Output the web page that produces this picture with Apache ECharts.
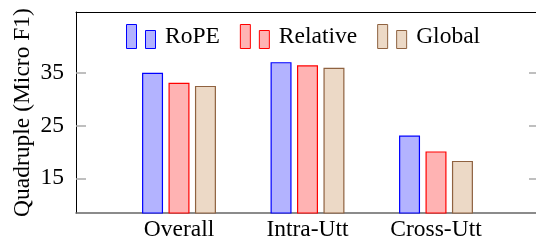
<!DOCTYPE html>
<html>
<head>
<meta charset="utf-8">
<script src="https://cdn.jsdelivr.net/npm/echarts@6/dist/echarts.min.js"></script>
<style>
  html, body { margin: 0; padding: 0; background: #fff; }
  #chart { width: 536px; height: 242px; }
</style>
</head>
<body>
<div id="chart"></div>
<script>
const categories = ['Overall', 'Intra-Utt', 'Cross-Utt'];
const ropeValues = [35.0, 37.0, 23.1];
const relativeValues = [33.1, 36.4, 20.1];
const globalValues = [32.5, 35.95, 18.3];
const yTicks = [15, 25, 35];

const FONT = '"Liberation Serif", "Times New Roman", serif';
const FS = 23.5;
const catPos = categories.map((c, i) => i);

// legend icon like pgfplots ybar legend: two small bars
const barIcon = 'path://M0,0H10V24H0Z M19,6H29V24H19Z';

function toData(values) {
  return values.map((v, i) => [i, v]);
}

const chart = echarts.init(document.getElementById('chart'));

const option = {
  animation: false,
  grid: { left: 76, top: 12, width: 463, height: 201, outerBoundsMode: 'none', containLabel: false },
  legend: {
    left: 126,
    top: 24,
    padding: 0,
    itemWidth: 30,
    itemHeight: 24,
    itemGap: 20,
    icon: barIcon,
    itemStyle: { borderWidth: 1 },
    textStyle: { fontFamily: FONT, fontSize: FS, color: '#000', padding: [8, 0, 0, 4] },
    data: ['RoPE', 'Relative', 'Global']
  },
  xAxis: [
    {
      type: 'value',
      min: -0.8016,
      max: 2.8016,
      axisLine: { show: true, onZero: false, lineStyle: { color: '#666', width: 1.5 } },
      axisTick: { show: false },
      splitLine: { show: false },
      axisLabel: {
        customValues: catPos,
        formatter: v => categories[Math.round(v)],
        fontFamily: FONT, fontSize: FS, color: '#000', margin: 5
      }
    },
    {
      type: 'value',
      position: 'top',
      min: -0.8016,
      max: 2.8016,
      axisLine: { show: true, onZero: false, lineStyle: { color: '#000', width: 1 } },
      axisTick: { show: false },
      axisLabel: { show: false },
      splitLine: { show: false }
    }
  ],
  yAxis: [
    {
      type: 'value',
      position: 'left',
      min: 8.43,
      max: 46.5,
      name: 'Quadruple (Micro F1)',
      nameLocation: 'middle',
      nameGap: 41,
      nameMoveOverlap: false,
      nameTextStyle: { fontFamily: FONT, fontSize: FS, color: '#000' },
      axisLine: { show: true, onZero: false, lineStyle: { color: '#000', width: 1 } },
      axisTick: { show: true, inside: true, length: 10, customValues: yTicks, lineStyle: { color: '#aaa', width: 1.5 } },
      axisLabel: { customValues: yTicks, fontFamily: FONT, fontSize: FS, color: '#000', margin: 12 },
      splitLine: { show: false }
    },
    {
      type: 'value',
      position: 'right',
      min: 8.43,
      max: 46.5,
      axisLine: { show: true, onZero: false, lineStyle: { color: '#000', width: 1 } },
      axisTick: { show: true, inside: true, length: 10, customValues: yTicks, lineStyle: { color: '#aaa', width: 1.5 } },
      axisLabel: { show: false },
      splitLine: { show: false }
    }
  ],
  series: [
    {
      name: 'RoPE', type: 'bar', barWidth: 21, barGap: '26%',
      itemStyle: { color: '#b3b3ff', borderColor: '#0000ff', borderWidth: 1.2 },
      data: toData(ropeValues)
    },
    {
      name: 'Relative', type: 'bar', barWidth: 21, barGap: '26%',
      itemStyle: { color: '#ffb3b3', borderColor: '#ff0000', borderWidth: 1.2 },
      data: toData(relativeValues)
    },
    {
      name: 'Global', type: 'bar', barWidth: 21, barGap: '26%',
      itemStyle: { color: '#ecd9c6', borderColor: '#8f6240', borderWidth: 1.2 },
      data: toData(globalValues)
    }
  ]
};

chart.setOption(option);
</script>
</body>
</html>
